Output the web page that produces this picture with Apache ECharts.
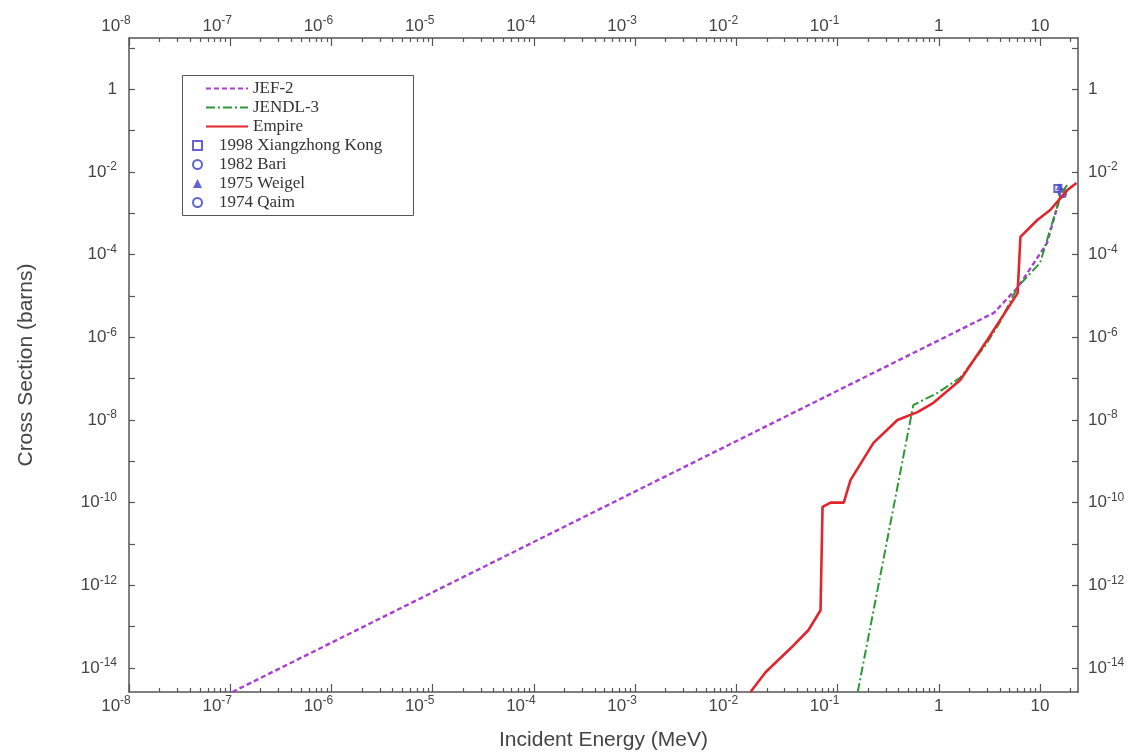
<!DOCTYPE html>
<html>
<head>
<meta charset="utf-8">
<script src="https://cdn.jsdelivr.net/npm/echarts@6/dist/echarts.min.js"></script>
<style>
  html, body { margin: 0; padding: 0; background: #fff; }
  #main { width: 1143px; height: 755px; }
</style>
</head>
<body>
<div id="main"></div>
<script>
// axis ranges
var xMin = 1e-8, xMax = 23.7;
var yMin = 2.63e-15, yMax = 17.4;

// tick values
var xMajorTicks = [1e-8, 1e-7, 1e-6, 1e-5, 1e-4, 1e-3, 1e-2, 1e-1, 1, 10];
var xMinorSteps = [2, 3, 4, 5, 6, 7, 8, 9];
var yTicks = [1e-14, 1e-13, 1e-12, 1e-11, 1e-10, 1e-9, 1e-8, 1e-7, 1e-6, 1e-5, 1e-4, 1e-3, 1e-2, 1e-1, 1, 10];
var yLabels = [1e-14, 1e-12, 1e-10, 1e-8, 1e-6, 1e-4, 1e-2, 1];

// JEF-2
var jefE  = [1.05e-7, 3.5, 6.0, 7.5, 11.7, 15.8, 18.0];
var jefXS = [2.63e-15, 3.9e-6, 1.6e-5, 3.6e-5, 1.9e-4, 2.5e-3, 4.5e-3];

// JENDL-3
var jendlE  = [0.158, 0.56, 0.97, 1.62, 2.9, 4.0, 6.0, 10, 15.8, 18.5];
var jendlXS = [2.63e-15, 2.3e-8, 4.5e-8, 1.05e-7, 6.5e-7, 2.3e-6, 1.66e-5, 6.3e-5, 2.5e-3, 4.9e-3];

// Empire
var empireE  = [0.0138, 0.0194, 0.0343, 0.0516, 0.0678, 0.071, 0.085, 0.115, 0.134, 0.226, 0.39, 0.615, 0.885, 1.63, 3.0, 6.0, 6.4, 9.4, 12.6, 18.5, 22.9];
var empireXS = [2.63e-15, 7.9e-15, 3.0e-14, 8.3e-14, 2.5e-13, 7.9e-11, 1.0e-10, 1.0e-10, 3.5e-10, 2.8e-9, 1.0e-8, 1.55e-8, 2.6e-8, 9.3e-8, 8.5e-7, 1.17e-5, 2.7e-4, 6.9e-4, 1.2e-3, 3.6e-3, 5.4e-3];

// experiments
var kongE = [15.0],  kongXS = [4.0e-3];
var bariE = [16.5],  bariXS = [3.1e-3];
var weigelE = [15.5], weigelXS = [4.4e-3];
var qaimE = [16.8],  qaimXS = [2.9e-3];

var xMinorTicks = [];
xMajorTicks.forEach(function (d) {
  xMinorSteps.forEach(function (k) {
    if (d * k <= xMax) xMinorTicks.push(d * k);
  });
});

function pairs(xs, ys) {
  return xs.map(function (x, i) { return [x, ys[i]]; });
}

var axisColor = '#555';
var labelColor = '#444';
var rich = {
  b: { fontSize: 17, lineHeight: 22, fontFamily: 'Liberation Sans', color: labelColor },
  s: { fontSize: 12, lineHeight: 10, verticalAlign: 'top', fontFamily: 'Liberation Sans', color: labelColor },
  sp: { width: 26 }
};

function powLabel(v, pad) {
  var e = Math.round(Math.log10(v));
  if (e === 0) return '{b|1}';
  if (e === 1) return '{b|10}';
  return '{b|10}{s|' + e + '}' + (pad ? '{sp| }' : '');
}

function xAxisDef(pos, minor) {
  return {
    type: 'log', min: xMin, max: xMax, position: pos, offset: 0,
    axisLine: { show: !minor, lineStyle: { color: axisColor, width: 1.5 } },
    axisTick: {
      show: true, inside: true, length: minor ? 4 : 8,
      customValues: minor ? xMinorTicks : xMajorTicks,
      lineStyle: { color: axisColor, width: 1.2 }
    },
    axisLabel: minor ? { show: false } : {
      show: true, customValues: xMajorTicks, interval: 0,
      margin: pos === 'bottom' ? 3 : 1,
      formatter: function (v) { return powLabel(v, true); },
      rich: rich
    },
    splitLine: { show: false },
    minorTick: { show: false },
    minorSplitLine: { show: false }
  };
}

function yAxisDef(pos) {
  return {
    type: 'log', min: yMin, max: yMax, position: pos, offset: 0,
    axisLine: { show: true, lineStyle: { color: axisColor, width: 1.5 } },
    axisTick: { show: true, inside: true, length: 6, customValues: yTicks, lineStyle: { color: axisColor, width: 1.2 } },
    axisLabel: {
      show: true, customValues: yLabels, interval: 0,
      margin: pos === 'left' ? 12 : 10,
      formatter: function (v) { return powLabel(v, false); },
      rich: rich
    },
    splitLine: { show: false },
    minorTick: { show: false },
    minorSplitLine: { show: false }
  };
}

var xAxes = [xAxisDef('bottom', false), xAxisDef('top', false), xAxisDef('bottom', true), xAxisDef('top', true)];
xAxes[0].name = 'Incident Energy (MeV)';
xAxes[0].nameLocation = 'middle';
xAxes[0].nameGap = 38;
xAxes[0].nameTextStyle = { fontSize: 21, fontFamily: 'Liberation Sans', color: labelColor };

var yAxes = [yAxisDef('left'), yAxisDef('right')];
yAxes[0].name = 'Cross Section (barns)';
yAxes[0].nameLocation = 'middle';
yAxes[0].nameGap = 92;
yAxes[0].nameTextStyle = { fontSize: 21, fontFamily: 'Liberation Sans', color: labelColor };

var blue = '#3c3cc8';
var legendText = { fontFamily: 'Liberation Serif', fontSize: 17, color: '#333', lineHeight: 19 };

var myChart = echarts.init(document.getElementById('main'), null, { renderer: 'canvas' });
myChart.setOption({
  animation: false,
  backgroundColor: '#fff',
  grid: { left: 129, right: 65, top: 38, bottom: 63, outerBoundsMode: 'none' },
  xAxis: xAxes,
  yAxis: yAxes,
  legend: [
    {
      data: ['JEF-2', 'JENDL-3', 'Empire'],
      orient: 'vertical', left: 205, top: 79, padding: 0, itemGap: 0,
      itemWidth: 42, itemHeight: 10,
      itemStyle: { color: 'rgba(0,0,0,0)', borderWidth: 0 },
      textStyle: legendText
    },
    {
      data: ['1998 Xiangzhong Kong', '1982 Bari', '1975 Weigel', '1974 Qaim'],
      orient: 'vertical', left: 192, top: 136, padding: 0, itemGap: 0,
      itemWidth: 9, itemHeight: 9,
      textStyle: Object.assign({ padding: [0, 0, 0, 12] }, legendText)
    }
  ],
  graphic: [{
    type: 'rect', left: 180, top: 73, z: 1,
    shape: { width: 231, height: 140 },
    style: { fill: 'none', stroke: '#555', lineWidth: 1 }
  }],
  series: [
    {
      name: 'JEF-2', type: 'line', symbol: 'none', data: pairs(jefE, jefXS),
      lineStyle: { color: '#a83fd2', width: 2.4, type: [5, 3] }, itemStyle: { color: '#a83fd2' }
    },
    {
      name: 'JENDL-3', type: 'line', symbol: 'none', data: pairs(jendlE, jendlXS),
      lineStyle: { color: '#2c9a34', width: 2, type: [9, 3, 2, 3] }, itemStyle: { color: '#2c9a34' }
    },
    {
      name: 'Empire', type: 'line', symbol: 'none', data: pairs(empireE, empireXS),
      lineStyle: { color: '#e0262c', width: 2.6 }, itemStyle: { color: '#e0262c' }
    },
    {
      name: '1998 Xiangzhong Kong', type: 'scatter', symbol: 'emptyRect', symbolSize: 7,
      data: pairs(kongE, kongXS), itemStyle: { color: blue, borderWidth: 1.2 }
    },
    {
      name: '1982 Bari', type: 'scatter', symbol: 'emptyCircle', symbolSize: 7,
      data: pairs(bariE, bariXS), itemStyle: { color: blue, borderWidth: 1.2 }
    },
    {
      name: '1975 Weigel', type: 'scatter', symbol: 'triangle', symbolSize: 7,
      data: pairs(weigelE, weigelXS), itemStyle: { color: blue }
    },
    {
      name: '1974 Qaim', type: 'scatter', symbol: 'emptyCircle', symbolSize: 6,
      data: pairs(qaimE, qaimXS), itemStyle: { color: blue, borderWidth: 1.2 }
    }
  ]
});
</script>
</body>
</html>
